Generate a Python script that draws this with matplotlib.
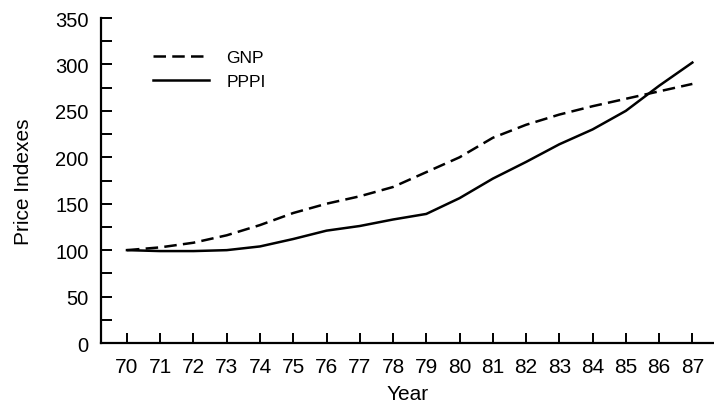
import matplotlib

matplotlib.use("Agg")
import matplotlib.pyplot as plt
from matplotlib.ticker import MultipleLocator

plt.rcParams["font.family"] = ["Liberation Sans", "DejaVu Sans"]

years = list(range(70, 88))
year_labels = [str(y) for y in years]
gnp = [100, 103, 108, 116, 127, 140, 150, 158, 168, 184, 200, 221, 235, 246, 255, 263, 271, 279]
pppi = [100, 99, 99, 100, 104, 112, 121, 126, 133, 139, 156, 177, 195, 214, 230, 250, 277, 302]

fig = plt.figure(figsize=(7.14, 4.06), dpi=100)
ax = fig.add_axes([0.1415, 0.1527, 0.858, 0.8005])

ax.plot(years, gnp, color="black", linewidth=1.8, linestyle=(0, (5, 2.5)), label="GNP")
ax.plot(years, pppi, color="black", linewidth=1.8, label="PPPI")

ax.set_xlim(69.22, 87.64)
ax.set_ylim(0, 350)
ax.set_xticks(years)
ax.set_xticklabels(year_labels)
ax.yaxis.set_major_locator(MultipleLocator(50))
ax.yaxis.set_minor_locator(MultipleLocator(25))

for side in ("top", "right"):
    ax.spines[side].set_visible(False)
for side in ("left", "bottom"):
    ax.spines[side].set_linewidth(1.6)

ax.tick_params(axis="y", which="both", direction="in", length=8, width=1.4, labelsize=14.5, pad=9)
ax.tick_params(axis="x", direction="in", length=7, width=1.4, labelsize=15, pad=10)

ax.set_xlabel("Year", fontsize=15, labelpad=6)
ax.set_ylabel("Price Indexes", fontsize=15, labelpad=16)

ax.legend(loc="upper left", bbox_to_anchor=(0.06, 0.95), frameon=False, fontsize=12.5,
          handlelength=3.2, handletextpad=1.0, labelspacing=0.5)

fig.savefig("out.png", dpi=100)
